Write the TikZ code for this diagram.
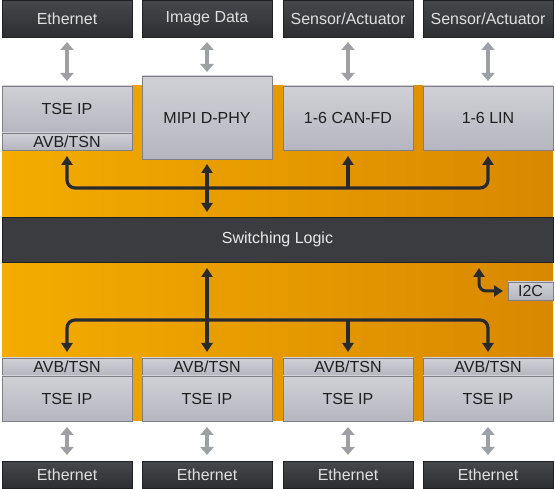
\documentclass[tikz,border=0pt]{standalone}
\usepackage{fontspec}
\setmainfont{Liberation Sans}
\usetikzlibrary{arrows.meta}
\definecolor{dkt}{HTML}{46484C}
\definecolor{dkb}{HTML}{2C2E32}
\definecolor{dkline}{HTML}{1E2024}
\definecolor{gyt}{HTML}{D0D0D6}
\definecolor{gyb}{HTML}{B6B6C0}
\definecolor{gyline}{HTML}{7E7E88}
\definecolor{orl}{HTML}{F4AC00}
\definecolor{orr}{HTML}{D88800}
\definecolor{garr}{HTML}{9DA1A5}
\definecolor{busc}{HTML}{272A2E}
\definecolor{swc}{HTML}{3A3C40}
\tikzset{
  basebox/.style={rectangle, anchor=north west, inner sep=0pt, outer sep=0pt,
    line width=0.6pt, font=\fontsize{16}{19}\selectfont},
  darkbox/.style={basebox, draw=dkline, top color=dkt, bottom color=dkb, text=white!88!black},
  graybox/.style={basebox, draw=gyline, top color=gyt, bottom color=gyb, text=black!88},
  garrow/.style={draw=garr, line width=4.5pt,
    {Triangle[width=13pt,length=8pt]}-{Triangle[width=13pt,length=8pt]},
    shorten >=5pt, shorten <=5pt},
  bus/.style={draw=busc, line width=3.2pt, rounded corners=8pt},
  bustip/.style={-{Triangle[width=11pt,length=9pt]}},
  busboth/.style={{Triangle[width=11pt,length=9pt]}-{Triangle[width=11pt,length=9pt]}}
}
\begin{document}
\begin{tikzpicture}[x=1pt,y=-1pt]
\useasboundingbox (0,0) rectangle (555,489);
% orange panel
\shade[left color=orl, right color=orr] (2,86) rectangle (553,421);
% top dark boxes
\node[darkbox, minimum width=130pt, minimum height=37pt] (eth1) at (2,0) {Ethernet};
\node[darkbox, minimum width=130pt, minimum height=37pt] (img) at (142,0) {Image Data};
\node[darkbox, minimum width=130pt, minimum height=37pt] (sa1) at (283,0) {Sensor/Actuator};
\node[darkbox, minimum width=130pt, minimum height=37pt] (sa2) at (423,0) {Sensor/Actuator};
% top gray blocks
\node[graybox, minimum width=130pt, minimum height=46pt] (tse1) at (2,86) {TSE IP};
\node[graybox, minimum width=130pt, minimum height=17pt] (avb1) at (2,133) {AVB/TSN};
\node[graybox, minimum width=130pt, minimum height=83pt] (mipi) at (142,76) {MIPI D-PHY};
\node[graybox, minimum width=130pt, minimum height=64pt] (can) at (283,86) {1-6 CAN-FD};
\node[graybox, minimum width=130pt, minimum height=64pt] (lin) at (423,86) {1-6 LIN};
% switching logic
\node[basebox, draw=dkline, fill=swc, text=white!92!black, minimum width=551pt, minimum height=45pt] (sw) at (2,217) {Switching Logic};
% I2C
\node[graybox, minimum width=45pt, minimum height=18pt] (i2c) at (508,282) {I2C};
% bottom blocks
\node[graybox, minimum width=130pt, minimum height=17pt] (bavb1) at (2,358) {AVB/TSN};
\node[graybox, minimum width=130pt, minimum height=17pt] (bavb2) at (142,358) {AVB/TSN};
\node[graybox, minimum width=130pt, minimum height=17pt] (bavb3) at (283,358) {AVB/TSN};
\node[graybox, minimum width=130pt, minimum height=17pt] (bavb4) at (423,358) {AVB/TSN};
\node[graybox, minimum width=130pt, minimum height=45pt] (btse1) at (2,376) {TSE IP};
\node[graybox, minimum width=130pt, minimum height=45pt] (btse2) at (142,376) {TSE IP};
\node[graybox, minimum width=130pt, minimum height=45pt] (btse3) at (283,376) {TSE IP};
\node[graybox, minimum width=130pt, minimum height=45pt] (btse4) at (423,376) {TSE IP};
\node[darkbox, minimum width=130pt, minimum height=27pt] (beth1) at (2,461) {Ethernet};
\node[darkbox, minimum width=130pt, minimum height=27pt] (beth2) at (142,461) {Ethernet};
\node[darkbox, minimum width=130pt, minimum height=27pt] (beth3) at (283,461) {Ethernet};
\node[darkbox, minimum width=130pt, minimum height=27pt] (beth4) at (423,461) {Ethernet};
% gray arrows
\draw[garrow] (eth1.south) -- (tse1.north);
\draw[garrow, shorten >=4pt] (img.south) -- (mipi.north);
\draw[garrow] (sa1.south) -- (can.north);
\draw[garrow] (sa2.south) -- (lin.north);
\draw[garrow, shorten <=6pt, shorten >=6pt] (btse1.south) -- (beth1.north);
\draw[garrow, shorten <=6pt, shorten >=6pt] (btse2.south) -- (beth2.north);
\draw[garrow, shorten <=6pt, shorten >=6pt] (btse3.south) -- (beth3.north);
\draw[garrow, shorten <=6pt, shorten >=6pt] (btse4.south) -- (beth4.north);
% upper bus
\coordinate (bt) at (0,188);
\draw[bus, busboth, shorten <=6pt, shorten >=6pt] (avb1.south) -- (avb1.south |- bt) -- (lin.south |- bt) -- (lin.south);
\draw[bus, bustip, shorten >=6pt] (can.south |- bt) -- (can.south);
\draw[bus, busboth, shorten <=5pt, shorten >=5pt] (mipi.south) -- (mipi.south |- sw.north);
% lower bus
\coordinate (bb) at (0,320);
\draw[bus, busboth, shorten <=6pt, shorten >=6pt] (bavb1.north) -- (bavb1.north |- bb) -- (bavb4.north |- bb) -- (bavb4.north);
\draw[bus, bustip, shorten >=6pt] (bavb3.north |- bb) -- (bavb3.north);
\draw[bus, busboth, shorten <=6pt, shorten >=6pt] (bavb2.north |- sw.south) -- (bavb2.north);
% I2C link
\coordinate (i2ctop) at (479,262);
\draw[bus, busboth, line width=3pt, rounded corners=7pt, shorten <=6pt, shorten >=5pt] (i2ctop) |- (i2c.west);
\end{tikzpicture}
\end{document}
